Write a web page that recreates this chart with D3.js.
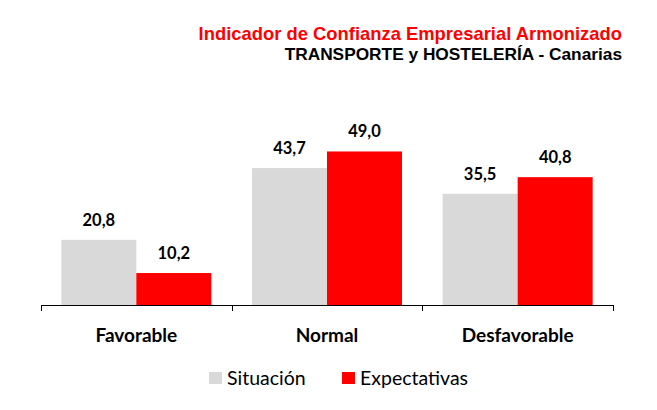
<!DOCTYPE html>
<html lang="es">
  <head>
    <meta charset="UTF-8" />
    <title>ICEA Transporte y Hostelería</title>
    <script src="https://cdn.jsdelivr.net/npm/d3@7/dist/d3.min.js"></script>
    <style>
      body { margin: 0; background: #fff; }
    </style>
  </head>
  <body>
    <div id="wrapper"></div>
    <script>
      const categories = ["Favorable", "Normal", "Desfavorable"];
      const seriesNames = ["Situación", "Expectativas"];
      const situacion = [20.8, 43.7, 35.5];
      const expectativas = [10.2, 49.0, 40.8];
      const colors = ["#d9d9d9", "#ff0000"];

      const dimensions = {
        width: 657,
        height: 410,
        margin: { left: 41, right: 44, top: 117, bottom: 105 },
      };
      dimensions.boundedWidth =
        dimensions.width - dimensions.margin.left - dimensions.margin.right;
      dimensions.boundedHeight =
        dimensions.height - dimensions.margin.top - dimensions.margin.bottom;

      const dataset = categories.map((c, i) => ({
        category: c,
        values: [situacion[i], expectativas[i]],
      }));

      const svg = d3
        .select("#wrapper")
        .append("svg")
        .attr("width", dimensions.width)
        .attr("height", dimensions.height);

      // titles
      svg.append("text")
        .attr("x", 622).attr("y", 40)
        .attr("text-anchor", "end")
        .style("font-family", "Liberation Sans, Arial, sans-serif")
        .style("font-weight", "bold")
        .style("font-size", "18.4px")
        .attr("fill", "#ff0000")
        .text("Indicador de Confianza Empresarial Armonizado");
      svg.append("text")
        .attr("x", 622).attr("y", 60)
        .attr("text-anchor", "end")
        .style("font-family", "Liberation Sans, Arial, sans-serif")
        .style("font-weight", "bold")
        .style("font-size", "17.3px")
        .attr("fill", "#000")
        .text("TRANSPORTE y HOSTELERÍA - Canarias");

      const bounds = svg
        .append("g")
        .attr("transform", `translate(${dimensions.margin.left},${dimensions.margin.top})`);

      const xScale = d3
        .scaleBand()
        .domain(categories)
        .range([0, dimensions.boundedWidth])
        .paddingInner(0)
        .paddingOuter(0);
      const x1 = d3
        .scaleBand()
        .domain(seriesNames)
        .range([0, xScale.bandwidth()])
        .paddingOuter(0.271)
        .paddingInner(0);
      const yScale = d3
        .scaleLinear()
        .domain([0, 60])
        .range([dimensions.boundedHeight, 0]);

      const groups = bounds
        .selectAll("g.group")
        .data(dataset)
        .join("g")
        .attr("class", "group")
        .attr("transform", (d) => `translate(${xScale(d.category)},0)`);

      groups
        .selectAll("rect")
        .data((d) => d.values.map((v, i) => ({ key: seriesNames[i], value: v, i })))
        .join("rect")
        .attr("x", (d) => x1(d.key))
        .attr("width", x1.bandwidth())
        .attr("y", (d) => yScale(d.value))
        .attr("height", (d) => yScale(0) - yScale(d.value))
        .attr("fill", (d) => colors[d.i]);

      groups
        .selectAll("text.value")
        .data((d) => d.values.map((v, i) => ({ key: seriesNames[i], value: v })))
        .join("text")
        .attr("class", "value")
        .attr("x", (d) => x1(d.key) + x1.bandwidth() / 2)
        .attr("y", (d) => yScale(d.value) - 14)
        .attr("text-anchor", "middle")
        .style("font-family", "Lato, Open Sans, sans-serif")
        .style("font-weight", "bold")
        .style("font-size", "16.5px")
        .text((d) => d.value.toFixed(1).replace(".", ","));

      const xAxis = bounds
        .append("g")
        .attr("transform", `translate(0,${dimensions.boundedHeight})`)
        .call(d3.axisBottom(xScale).tickSize(0));
      xAxis.select(".domain").remove();
      xAxis.selectAll("text")
        .attr("y", 37)
        .attr("dy", 0)
        .attr("fill", "#000")
        .style("font-family", "Lato, Open Sans, sans-serif")
        .style("font-weight", "bold")
        .style("font-size", "19px");

      // baseline and category separators
      bounds.append("line")
        .attr("x1", 0).attr("x2", dimensions.boundedWidth)
        .attr("y1", yScale(0) + 0.5).attr("y2", yScale(0) + 0.5)
        .attr("stroke", "#000");
      const edges = categories.map((c) => xScale(c)).concat([dimensions.boundedWidth]);
      bounds.selectAll("line.tick-sep")
        .data(edges)
        .join("line")
        .attr("class", "tick-sep")
        .attr("x1", (d) => Math.round(d) + 0.5).attr("x2", (d) => Math.round(d) + 0.5)
        .attr("y1", yScale(0)).attr("y2", yScale(0) + 6)
        .attr("stroke", "#000");

      // legend
      const legend = svg.append("g");
      const legendX = [209, 342];
      seriesNames.forEach((name, i) => {
        legend.append("rect")
          .attr("x", legendX[i]).attr("y", 372)
          .attr("width", 13).attr("height", 12)
          .attr("fill", colors[i]);
        legend.append("text")
          .attr("x", legendX[i] + 18).attr("y", 385)
          .style("font-family", "Lato, Open Sans, sans-serif")
          .style("font-size", "19.5px")
          .attr("fill", "#000")
          .text(name);
      });
    </script>
  </body>
</html>
